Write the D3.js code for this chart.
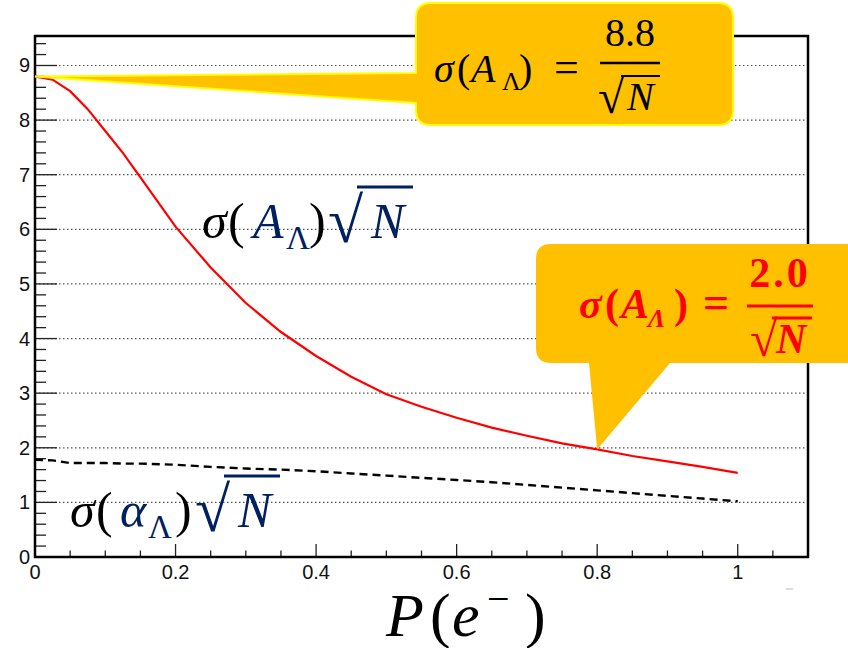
<!DOCTYPE html>
<html>
<head>
<meta charset="utf-8">
<script src="https://cdn.jsdelivr.net/npm/d3@7"></script>
<style>
  body { margin: 0; background: #fff; }
  svg { display: block; }
  .tick-label { font-family: "Liberation Sans", Arial, sans-serif; font-size: 20px; fill: #111; }
  .math { font-family: "Liberation Serif", "DejaVu Serif", serif; }
</style>
</head>
<body>
<div id="target"></div>
<script>
// P(e-) sample points
const polarization = [0, 0.025, 0.05, 0.075, 0.1, 0.125, 0.15, 0.2, 0.25, 0.3, 0.35, 0.4, 0.45,
  0.5, 0.55, 0.6, 0.65, 0.7, 0.75, 0.8, 0.85, 0.9, 0.95, 1.0];
// sigma(A_Lambda) * sqrt(N)
const sigmaA = [8.80, 8.74, 8.53, 8.2, 7.8, 7.4, 6.95, 6.05, 5.3, 4.65, 4.12, 3.68, 3.3,
  2.98, 2.75, 2.55, 2.37, 2.22, 2.08, 1.97, 1.85, 1.75, 1.65, 1.54];
// sigma(alpha_Lambda) * sqrt(N)
const sigmaAlpha = [1.78, 1.77, 1.72, 1.72, 1.72, 1.71, 1.71, 1.69, 1.65, 1.62, 1.60, 1.57, 1.53,
  1.49, 1.45, 1.41, 1.37, 1.32, 1.27, 1.22, 1.17, 1.12, 1.07, 1.02];
const xTicks = [0, 0.2, 0.4, 0.6, 0.8, 1];
const yTicks = [0, 1, 2, 3, 4, 5, 6, 7, 8, 9];

const width = 848;
const height = 648;
const frame = {left: 35, right: 808, top: 36, bottom: 557};

const svg = d3.select('#target')
  .append('svg')
  .attr('width', width)
  .attr('height', height);

const x = d3.scaleLinear().domain([0, 1.1]).range([frame.left, frame.right]);
const y = d3.scaleLinear().domain([0, 9.54]).range([frame.bottom, frame.top]);

// grid
svg.append('g').selectAll('line')
  .data(yTicks.filter(d => d > 0))
  .enter().append('line')
  .attr('x1', frame.left).attr('x2', frame.right)
  .attr('y1', d => y(d)).attr('y2', d => y(d))
  .attr('stroke', '#555').attr('stroke-width', 1.2)
  .attr('stroke-dasharray', '1.5,2.5');

// y axis ticks (inside)
const yMinor = d3.range(0, 9.55, 0.2);
svg.append('g').selectAll('line')
  .data(yMinor)
  .enter().append('line')
  .attr('x1', frame.left)
  .attr('x2', d => frame.left + (Math.abs(d - Math.round(d)) < 1e-6 ? 22 : 11))
  .attr('y1', d => y(d)).attr('y2', d => y(d))
  .attr('stroke', '#222').attr('stroke-width', 1.3);

svg.append('g').selectAll('text')
  .data(yTicks)
  .enter().append('text')
  .attr('class', 'tick-label')
  .attr('x', 30)
  .attr('y', d => y(d) + 7)
  .attr('text-anchor', 'end')
  .text(d => d);

// x axis ticks (inside)
const xMinor = d3.range(0, 1.1001, 0.05);
svg.append('g').selectAll('line')
  .data(xMinor)
  .enter().append('line')
  .attr('x1', d => x(d)).attr('x2', d => x(d))
  .attr('y1', frame.bottom)
  .attr('y2', d => frame.bottom - (Math.abs(d * 5 - Math.round(d * 5)) < 1e-6 ? 13 : 6.5))
  .attr('stroke', '#222').attr('stroke-width', 1.3);

svg.append('g').selectAll('text')
  .data(xTicks)
  .enter().append('text')
  .attr('class', 'tick-label')
  .attr('x', d => x(d))
  .attr('y', 579)
  .attr('text-anchor', 'middle')
  .text(d => d);

// frame
svg.append('rect')
  .attr('x', frame.left).attr('y', frame.top)
  .attr('width', frame.right - frame.left).attr('height', frame.bottom - frame.top)
  .attr('fill', 'none').attr('stroke', '#000').attr('stroke-width', 2.5);

// small stray mark below axis
svg.append('line')
  .attr('x1', 786).attr('x2', 793).attr('y1', 589).attr('y2', 589)
  .attr('stroke', '#bbb').attr('stroke-width', 1);

// curves
const lineA = d3.line().x((d, i) => x(polarization[i])).y(d => y(d));
svg.append('path')
  .datum(sigmaAlpha)
  .attr('d', lineA)
  .attr('fill', 'none').attr('stroke', '#000').attr('stroke-width', 2.4)
  .attr('stroke-dasharray', '8,5');

svg.append('path')
  .datum(sigmaA)
  .attr('d', lineA)
  .attr('fill', 'none').attr('stroke', '#ff0000').attr('stroke-width', 2.2);

// callout 1
const tip1 = [x(polarization[0]), y(sigmaA[0])];
svg.append('path')
  .attr('d', `M${tip1[0]},${tip1[1]} L416,73 L416,18 Q416,3 431,3 L718,3 Q733,3 733,18 L733,110 Q733,125 718,125 L431,125 Q416,125 416,110 L416,103 Z`)
  .attr('fill', '#ffc000').attr('stroke', '#ffff00').attr('stroke-width', 2);

// callout 2
const tip2 = [x(polarization[19]), y(sigmaA[19])];
svg.append('path')
  .attr('d', `M536,259 Q536,244 551,244 L848,244 L848,363 L670,363 L${tip2[0]},${tip2[1]} L589,363 L551,363 Q536,363 536,348 Z`)
  .attr('fill', '#ffc000');

const navy = '#002060';

function mathText(sel, parts, opts) {
  const t = sel.append('text').attr('class', 'math')
    .attr('x', opts.x).attr('y', opts.y)
    .attr('font-size', opts.size)
    .attr('fill', opts.color || '#000')
    .attr('font-weight', opts.weight || 'normal');
  parts.forEach(p => {
    const s = t.append('tspan').text(p.t);
    if (p.x !== undefined) s.attr('x', p.x);
    if (p.dy !== undefined) s.attr('dy', p.dy);
    if (p.italic) s.attr('font-style', 'italic');
    if (p.size) s.attr('font-size', p.size);
    if (p.fill) s.attr('fill', p.fill);
  });
  return t;
}

// label sigma(A)sqrt(N)
mathText(svg, [
  {t: 'σ', italic: true, x: 202},
  {t: '(', x: 228},
  {t: 'A', italic: true, fill: navy, x: 253},
  {t: 'Λ', fill: navy, size: 33, x: 286, dy: 11},
  {t: ')', x: 309, dy: -11},
  {t: '√', fill: navy, size: 64, x: 328, dy: 4},
  {t: 'N', italic: true, fill: navy, x: 371, dy: -4}
], {x: 202, y: 238, size: 50});
svg.append('line').attr('x1', 357).attr('x2', 413).attr('y1', 187).attr('y2', 187)
  .attr('stroke', navy).attr('stroke-width', 3);

// label sigma(alpha)sqrt(N)
mathText(svg, [
  {t: 'σ', italic: true, x: 70},
  {t: '(', x: 96},
  {t: 'α', italic: true, fill: navy, x: 120},
  {t: 'Λ', fill: navy, size: 33, x: 148, dy: 11},
  {t: ')', x: 175, dy: -11},
  {t: '√', fill: navy, size: 64, x: 195, dy: 4},
  {t: 'N', italic: true, fill: navy, x: 238, dy: -4}
], {x: 70, y: 527, size: 50});
svg.append('line').attr('x1', 224).attr('x2', 280).attr('y1', 476).attr('y2', 476)
  .attr('stroke', navy).attr('stroke-width', 3);

// callout 1 text
mathText(svg, [
  {t: 'σ', italic: true, x: 434},
  {t: '(', x: 457},
  {t: 'A', italic: true, x: 471},
  {t: 'Λ', size: 26, x: 502, dy: 8},
  {t: ')', x: 519, dy: -8},
  {t: '=', size: 44, x: 554}
], {x: 434, y: 82, size: 40});
mathText(svg, [{t: '8.8'}], {x: 630, y: 46, size: 40}).attr('text-anchor', 'middle');
svg.append('line').attr('x1', 600).attr('x2', 660).attr('y1', 63).attr('y2', 63)
  .attr('stroke', '#000').attr('stroke-width', 2.5);
mathText(svg, [
  {t: '√', size: 48, x: 598, dy: 3},
  {t: 'N', italic: true, x: 627, dy: -3}
], {x: 598, y: 110, size: 40});
svg.append('line').attr('x1', 621).attr('x2', 660).attr('y1', 76).attr('y2', 76)
  .attr('stroke', '#000').attr('stroke-width', 2);

// callout 2 text
const red = '#ff0000';
mathText(svg, [
  {t: 'σ', italic: true, x: 579},
  {t: '(', x: 605},
  {t: 'A', italic: true, x: 621},
  {t: 'Λ', italic: true, size: 26, x: 648, dy: 9},
  {t: ')', x: 674, dy: -9},
  {t: '=', size: 46, x: 703}
], {x: 579, y: 318, size: 42, color: red, weight: 'bold'});
mathText(svg, [{t: '2.0'}], {x: 780, y: 287, size: 42, color: red, weight: 'bold'})
  .attr('text-anchor', 'middle').attr('letter-spacing', 3);
svg.append('line').attr('x1', 747).attr('x2', 813).attr('y1', 306).attr('y2', 306)
  .attr('stroke', red).attr('stroke-width', 3);
mathText(svg, [
  {t: '√', size: 50, x: 750, dy: 3},
  {t: 'N', italic: true, x: 776, dy: -3}
], {x: 750, y: 353, size: 42, color: red, weight: 'bold'});
svg.append('line').attr('x1', 772).attr('x2', 812).attr('y1', 318).attr('y2', 318)
  .attr('stroke', red).attr('stroke-width', 3);

// x axis title
mathText(svg, [
  {t: 'P', italic: true, x: 386},
  {t: '(', x: 430},
  {t: 'e', italic: true, x: 452},
  {t: '−', size: 40, x: 487, dy: -24},
  {t: ')', x: 525, dy: 24}
], {x: 386, y: 636, size: 62});
</script>
</body>
</html>
